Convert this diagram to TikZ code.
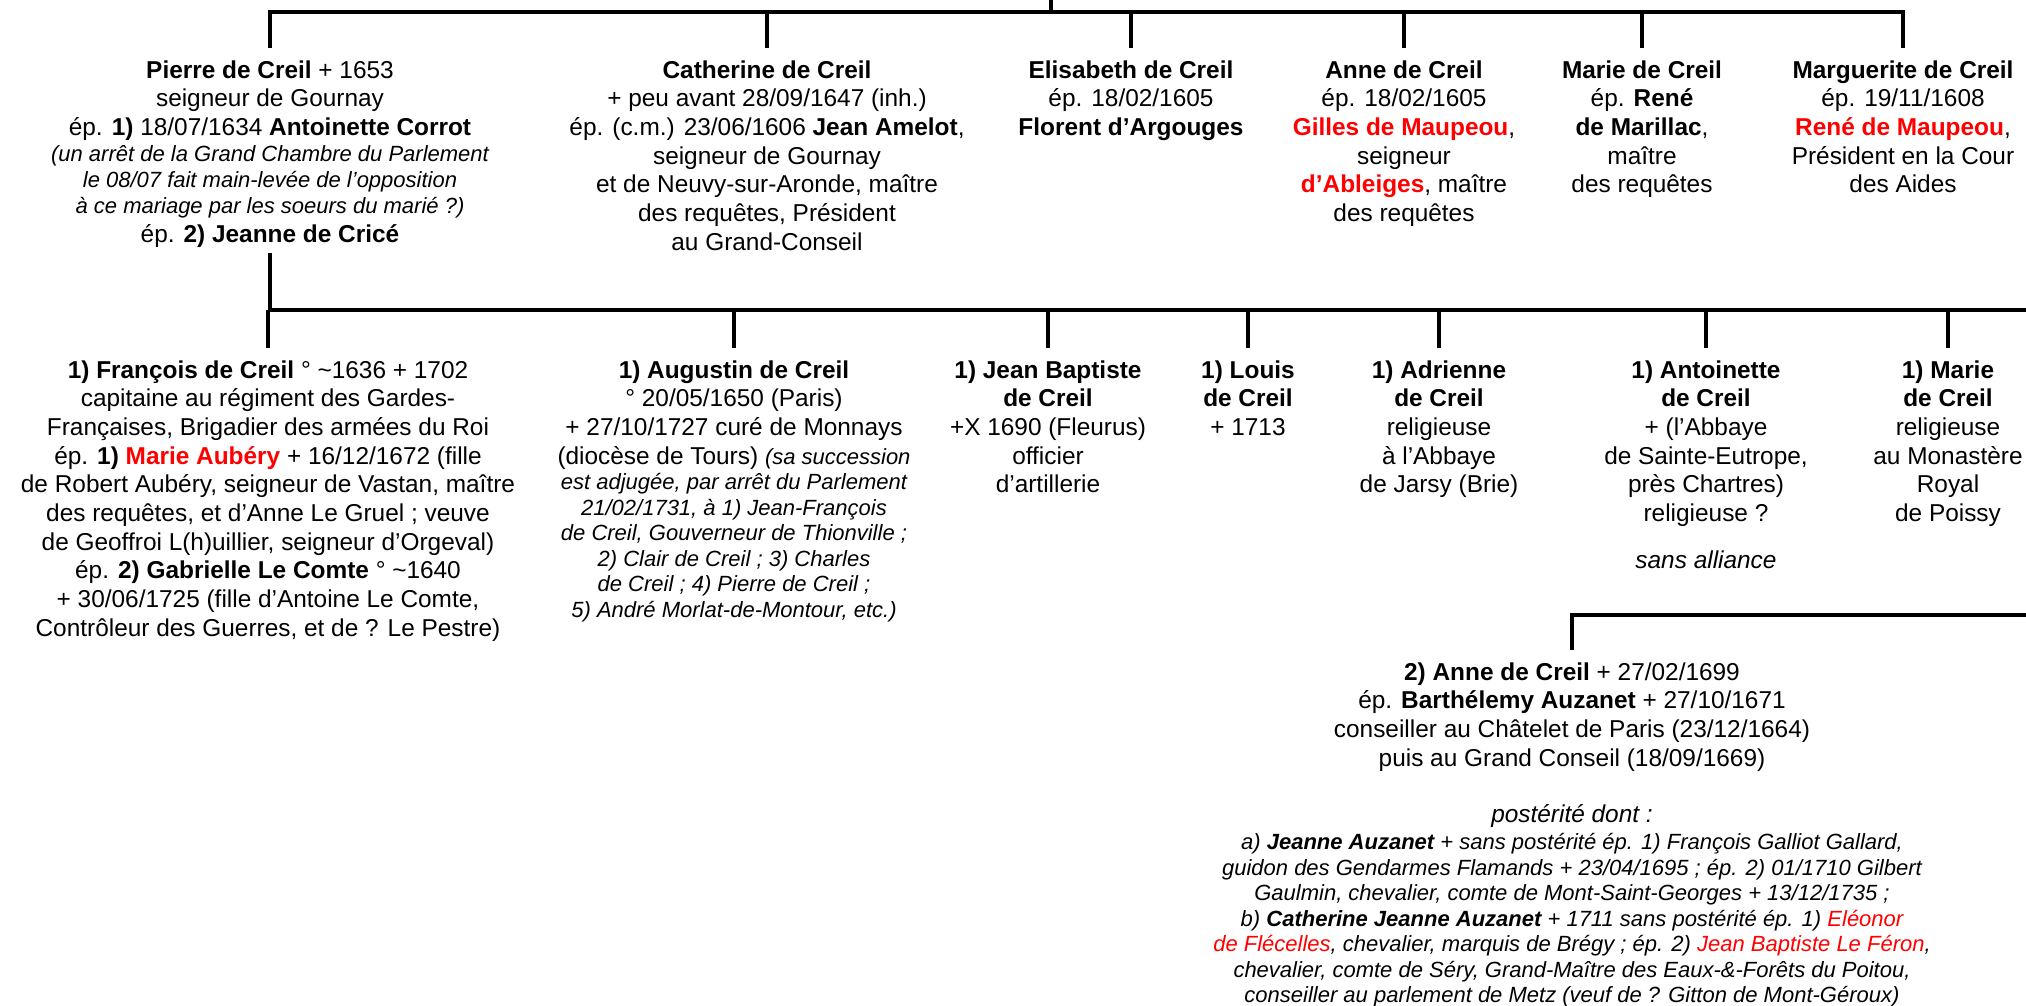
\documentclass[tikz,border=0pt]{standalone}
\usepackage{fontspec}
\setmainfont{Liberation Sans}
\usepackage{xcolor}
\usepackage{tikz}
\usetikzlibrary{positioning,calc}
\definecolor{nomrouge}{RGB}{255,0,0}
\newcommand{\rg}[1]{\textcolor{nomrouge}{#1}}
\newcommand{\petit}{\fontsize{11pt}{12.75pt}\selectfont\itshape}

\begin{document}
\begin{tikzpicture}[x=0.5pt,y=-0.5pt,
  pers/.style={anchor=north,align=center,inner xsep=2pt,inner ysep=6pt,
    font=\fontsize{12.2pt}{14.35pt}\selectfont},
  lien/.style={line width=1.7pt}]
\useasboundingbox (0,0) rectangle (2026,1006);
\coordinate (haut) at (1051,0);
\coordinate (b1) at (1051,12);
\coordinate (b2) at (269,310);
\coordinate (fin2) at (2026,310);
\coordinate (fin3) at (2026,615);
% premiere generation
\node[pers] (pierre) at (270,48) {\textbf{Pierre de Creil} + 1653\\
  seigneur de Gournay\\
  ép. \textbf{1)} 18/07/1634 \textbf{Antoinette Corrot}\\[-1.3pt]
  {\petit (un arrêt de la Grand Chambre du Parlement}\\[-1.3pt]
  {\petit le 08/07 fait main-levée de l’opposition}\\[-1.3pt]
  {\petit à ce mariage par les soeurs du marié ?)}\\
  ép. \textbf{2) Jeanne de Cricé}};
\node[pers] (catherine) at (767,48) {\textbf{Catherine de Creil}\\
  + peu avant 28/09/1647 (inh.)\\
  ép. (c.m.) 23/06/1606 \textbf{Jean Amelot},\\
  seigneur de Gournay\\
  et de Neuvy-sur-Aronde, maître\\
  des requêtes, Président\\
  au Grand-Conseil};
\node[pers] (elisabeth) at (1131,48) {\textbf{Elisabeth de Creil}\\
  ép. 18/02/1605\\
  \textbf{Florent d’Argouges}};
\node[pers] (anne) at (1404,48) {\textbf{Anne de Creil}\\
  ép. 18/02/1605\\
  \textbf{\rg{Gilles de Maupeou}},\\
  seigneur\\
  \textbf{\rg{d’Ableiges}}, maître\\
  des requêtes};
\node[pers] (marie) at (1642,48) {\textbf{Marie de Creil}\\
  ép. \textbf{René}\\
  \textbf{de Marillac},\\
  maître\\
  des requêtes};
\node[pers] (marguerite) at (1903,48) {\textbf{Marguerite de Creil}\\
  ép. 19/11/1608\\
  \textbf{\rg{René de Maupeou}},\\
  Président en la Cour\\
  des Aides};
% deuxieme generation
\node[pers] (francois) at (268,348) {\textbf{1) François de Creil} ° \textasciitilde1636 + 1702\\
  capitaine au régiment des Gardes-\\
  Françaises, Brigadier des armées du Roi\\
  ép. \textbf{1) \rg{Marie Aubéry}} + 16/12/1672 (fille\\
  de Robert Aubéry, seigneur de Vastan, maître\\
  des requêtes, et d’Anne Le Gruel ; veuve\\
  de Geoffroi L(h)uillier, seigneur d’Orgeval)\\
  ép. \textbf{2) Gabrielle Le Comte} ° \textasciitilde1640\\
  + 30/06/1725 (fille d’Antoine Le Comte,\\
  Contrôleur des Guerres, et de ? Le Pestre)};
\node[pers] (augustin) at (734,348) {\textbf{1) Augustin de Creil}\\
  ° 20/05/1650 (Paris)\\
  + 27/10/1727 curé de Monnays\\
  (diocèse de Tours) {\petit (sa succession}\\[-1.6pt]
  {\petit est adjugée, par arrêt du Parlement}\\[-1.6pt]
  {\petit 21/02/1731, à 1) Jean-François}\\[-1.6pt]
  {\petit de Creil, Gouverneur de Thionville ;}\\[-1.6pt]
  {\petit 2) Clair de Creil ; 3) Charles}\\[-1.6pt]
  {\petit de Creil ; 4) Pierre de Creil ;}\\[-1.6pt]
  {\petit 5) André Morlat-de-Montour, etc.)}};
\node[pers] (jeanbaptiste) at (1048,348) {\textbf{1) Jean Baptiste}\\
  \textbf{de Creil}\\
  +X 1690 (Fleurus)\\
  officier\\
  d’artillerie};
\node[pers] (louis) at (1248,348) {\textbf{1) Louis}\\
  \textbf{de Creil}\\
  + 1713};
\node[pers] (adrienne) at (1439,348) {\textbf{1) Adrienne}\\
  \textbf{de Creil}\\
  religieuse\\
  à l’Abbaye\\
  de Jarsy (Brie)};
\node[pers] (antoinette) at (1706,348) {\textbf{1) Antoinette}\\
  \textbf{de Creil}\\
  + (l’Abbaye\\
  de Sainte-Eutrope,\\
  près Chartres)\\
  religieuse ?\\[9pt]
  \textit{sans alliance}};
\node[pers] (mariebis) at (1948,348) {\textbf{1) Marie}\\
  \textbf{de Creil}\\
  religieuse\\
  au Monastère\\
  Royal\\
  de Poissy};
\node[pers] (anneauz) at (1572,650) {\textbf{2) Anne de Creil} + 27/02/1699\\
  ép. \textbf{Barthélemy Auzanet} + 27/10/1671\\
  conseiller au Châtelet de Paris (23/12/1664)\\
  puis au Grand Conseil (18/09/1669)\\[14pt]
  \textit{postérité dont :}\\[-1pt]
  {\petit a) \textbf{Jeanne Auzanet} + sans postérité ép. 1) François Galliot Gallard,}\\[-1.6pt]
  {\petit guidon des Gendarmes Flamands + 23/04/1695 ; ép. 2) 01/1710 Gilbert}\\[-1.6pt]
  {\petit Gaulmin, chevalier, comte de Mont-Saint-Georges + 13/12/1735 ;}\\[-1.6pt]
  {\petit b) \textbf{Catherine Jeanne Auzanet} + 1711 sans postérité ép. 1) \rg{Eléonor}}\\[-1.6pt]
  {\petit \rg{de Flécelles}, chevalier, marquis de Brégy ; ép. 2) \rg{Jean Baptiste Le Féron},}\\[-1.6pt]
  {\petit chevalier, comte de Séry, Grand-Maître des Eaux-\&-Forêts du Poitou,}\\[-1.6pt]
  {\petit conseiller au parlement de Metz (veuf de ? Gitton de Mont-Géroux)}};
% liens
\draw[lien] (haut) -- (b1);
\draw[lien] (pierre.north) -- (pierre.north |- b1) -- (marguerite.north |- b1) -- (marguerite.north);
\draw[lien] (catherine.north |- b1) -- (catherine.north);
\draw[lien] (elisabeth.north |- b1) -- (elisabeth.north);
\draw[lien] (anne.north |- b1) -- (anne.north);
\draw[lien] (marie.north |- b1) -- (marie.north);
\draw[lien] ([yshift=3.5pt]pierre.south) -- (pierre.south |- b2) -- (fin2);
\draw[lien] (francois.north |- b2) -- (francois.north);
\draw[lien] (augustin.north |- b2) -- (augustin.north);
\draw[lien] (jeanbaptiste.north |- b2) -- (jeanbaptiste.north);
\draw[lien] (louis.north |- b2) -- (louis.north);
\draw[lien] (adrienne.north |- b2) -- (adrienne.north);
\draw[lien] (antoinette.north |- b2) -- (antoinette.north);
\draw[lien] (mariebis.north |- b2) -- (mariebis.north);
\draw[lien] (fin3) -- (anneauz.north |- fin3) -- (anneauz.north);
\end{tikzpicture}
\end{document}
